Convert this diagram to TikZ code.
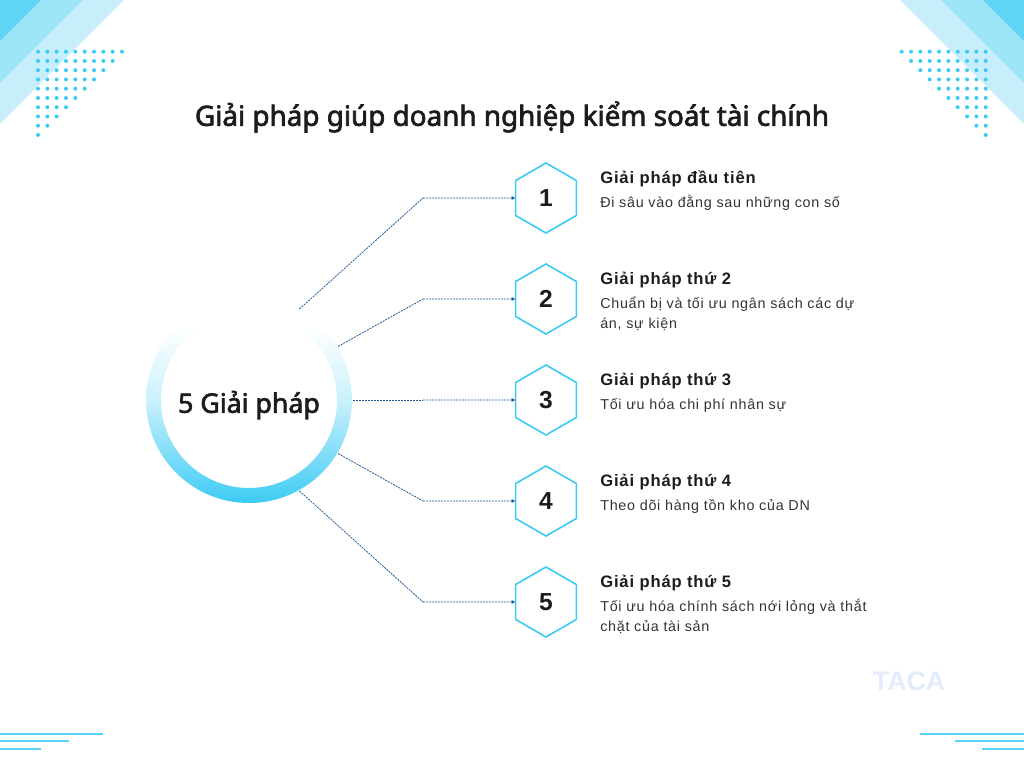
\documentclass[tikz,border=0pt]{standalone}
\usepackage{fontspec}
\setmainfont{Liberation Sans}
\newfontfamily\headfont[FakeBold=2.4]{Noto Sans}
\usetikzlibrary{shapes.geometric}
\usetikzlibrary{arrows.meta}
\definecolor{bandDark}{HTML}{5FD4F4}
\definecolor{bandMid}{HTML}{9CE4F8}
\definecolor{bandLight}{HTML}{C6EEFB}
\definecolor{dotBlue}{HTML}{3CCBF4}
\definecolor{lineBlue}{HTML}{1F5A96}
\definecolor{inkDark}{HTML}{1C1C1C}
\definecolor{logoBlue}{HTML}{E3ECFB}
\pgfdeclareverticalshading{ringfade}{100bp}{color(0bp)=(dotBlue); color(25bp)=(dotBlue); color(50bp)=(dotBlue!27); color(68bp)=(white); color(100bp)=(white)}
\tikzset{
	hexbox/.style={regular polygon, regular polygon sides=6, shape border rotate=30, draw=dotBlue, line width=.4mm, minimum size=1.75cm, inner sep=0, outer sep=0, text=inkDark, font=\fontsize{17.5}{20}\selectfont\bfseries},
	titletext/.style={anchor=base west, inner sep=0, text=inkDark, font=\addfontfeature{LetterSpace=5}\fontsize{11.8}{15}\selectfont\bfseries},
	desctext/.style={anchor=base west, inner sep=0, align=left, text=inkDark!90, font=\addfontfeature{LetterSpace=5}\fontsize{10.2}{14.2}\selectfont},
	linkline/.style={dash pattern=on .5mm off .25mm, lineBlue, line width=.2mm},
	sideline/.style={dotBlue!85, line width=.45mm}
}
\begin{document}
\begin{tikzpicture}[x=.025cm,y=-.025cm]
	\useasboundingbox (0,0) rectangle (1024,768);

	% corner bands left
	\fill[bandLight] (0,0) -- (124,0) -- (0,124) -- cycle;
	\fill[bandMid] (0,0) -- (83,0) -- (0,83) -- cycle;
	\fill[bandDark] (0,0) -- (41,0) -- (0,41) -- cycle;

	% corner bands right
	\fill[bandLight] (1024,0) -- (900,0) -- (1024,124) -- cycle;
	\fill[bandMid] (1024,0) -- (941,0) -- (1024,83) -- cycle;
	\fill[bandDark] (1024,0) -- (983,0) -- (1024,41) -- cycle;

	% dots
	\foreach \r in {0,...,9}{
		\pgfmathtruncatemacro{\last}{9-\r}
		\foreach \c in {0,...,\last}{
			\fill[dotBlue] (38+9.33*\c,51.7+9.25*\r) circle (2);
			\fill[dotBlue] (985.7-9.33*\c,51.7+9.25*\r) circle (2);
		}
	}

	% lines at the bottom
	\draw[sideline] (0,734) -- (103,734);
	\draw[sideline] (0,741) -- (69,741);
	\draw[sideline] (0,749) -- (41,749);
	\draw[sideline] (920,734) -- (1024,734);
	\draw[sideline] (955,741) -- (1024,741);
	\draw[sideline] (982,749) -- (1024,749);

	% Title
	\node[text=inkDark, font=\headfont\fontsize{19.8}{24}\selectfont] (title) at (512,117) {Giải pháp giúp doanh nghiệp kiểm soát tài chính};

	% Logo
	\node[text=logoBlue, font=\fontsize{19}{22}\selectfont\bfseries] (logo) at (909,681) {TACA};

	% Ring
	\shade[even odd rule, shading=ringfade] (249,400) circle (103) (249,400) circle (88);
	\node[circle, minimum size=5.2cm, inner sep=0, outer sep=0] (hub) at (249,400) {};
	\node[text=inkDark, font=\headfont\fontsize{19}{24}\selectfont] (hublabel) at (249,405) {5 Giải pháp};

	% Hexagons, links and texts
	\foreach \n/\y/\a/\o/\head/\body in {
		1/198/61/0/Giải pháp đầu tiên/Đi sâu vào đằng sau những con số,
		2/299/31/20/Giải pháp thứ 2/{Chuẩn bị và tối ưu ngân sách các dự\\án, sự kiện},
		3/400/0/0/Giải pháp thứ 3/Tối ưu hóa chi phí nhân sự,
		4/501/-31/0/Giải pháp thứ 4/Theo dõi hàng tồn kho của DN,
		5/602/-61/20/Giải pháp thứ 5/{Tối ưu hóa chính sách nới lỏng và thắt\\chặt của tài sản}}{
		\node[hexbox] (h\n) at (546,\y) {\n};
		\coordinate (b\n) at (423,\y);
		\draw[linkline] (hub.\a) -- (b\n);
		\draw[linkline, -{Latex[length=1mm,width=1mm]}] (b\n) -- (h\n.west);
		\node[titletext] (t\n) at (600,\y-14.5) {\head};
		\node[desctext] (d\n) at (600,\y+9+\o) {\body};
	}

\end{tikzpicture}
\end{document}
